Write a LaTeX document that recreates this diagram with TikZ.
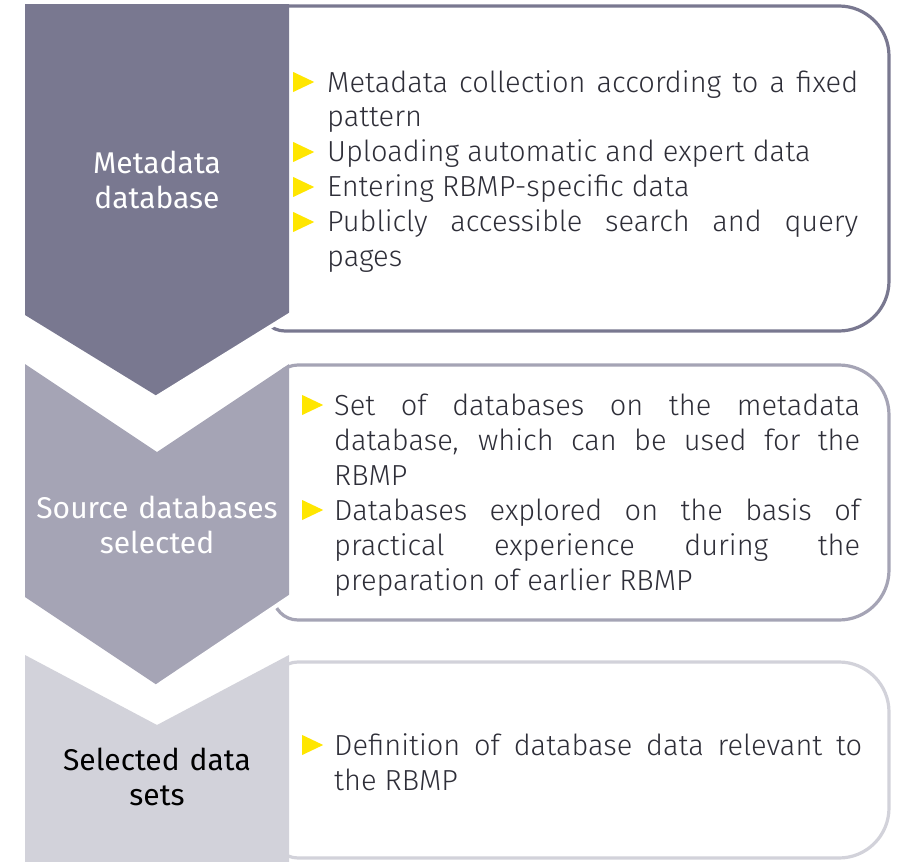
\documentclass[tikz,border=0pt]{standalone}
\usepackage{fontspec}
\setmainfont{Fira Sans}
\newfontfamily\lightfont{Fira Sans Light}
\definecolor{cA}{HTML}{797890}
\definecolor{cB}{HTML}{A5A4B5}
\definecolor{cC}{HTML}{D2D2DA}
\definecolor{txt}{HTML}{2E2E38}
\definecolor{ybul}{HTML}{FFE600}
\tolerance=10000
\newsavebox\bulbox
\sbox\bulbox{\tikz\fill[ybul](0pt,0pt)--(21pt,10pt)--(0pt,20pt)--cycle;}
\newcommand\bul[1]{\par\hangindent=#1\relax\hangafter=1\relax\noindent\makebox[#1][l]{\usebox\bulbox}\ignorespaces}
\newcommand\bodybox[2]{\begin{minipage}[t]{#1}\lightfont\fontsize{29}{35}\selectfont\parindent=0pt\parskip=0pt\relax\tolerance=10000\relax #2\par\end{minipage}}
\tikzset{
  boxline/.style={line width=3.2pt, fill=white},
  bodytext/.style={inner sep=0pt, anchor=base west, text=txt},
  labeltext/.style={inner sep=0pt, anchor=base, align=center, text width=270pt,
    font=\fontsize{30}{35}\selectfont},
  cut/.style={white, line width=4pt}
}
\begin{document}
\begin{tikzpicture}[x=1pt,y=-1pt]
\useasboundingbox (0,0) rectangle (898,862);
% boxes (behind)
\draw[boxline, draw=cA] (285,6) -- (839,6) arc[start angle=-90,end angle=0,radius=50] -- (889,281) arc[start angle=0,end angle=90,radius=50] -- (285,331) arc[start angle=90,end angle=180,radius=25] -- (260,31) arc[start angle=180,end angle=270,radius=25] -- cycle;
\draw[boxline, draw=cB] (298,365) -- (839,365) arc[start angle=-90,end angle=0,radius=50] -- (889,570) arc[start angle=0,end angle=90,radius=50] -- (298,620) arc[start angle=90,end angle=180,radius=25] -- (273,390) arc[start angle=180,end angle=270,radius=25] -- cycle;
\draw[boxline, draw=cC] (298,662) -- (839,662) arc[start angle=-90,end angle=0,radius=50] -- (889,808) arc[start angle=0,end angle=90,radius=50] -- (298,858) arc[start angle=90,end angle=180,radius=25] -- (273,687) arc[start angle=180,end angle=270,radius=25] -- cycle;
% chevrons
\fill[cA] (25,4) -- (289,4) -- (289,315) -- (157,396) -- (25,315) -- cycle;
\draw[cut] (291,314) -- (157,397);
\fill[cB] (25,364) -- (157,452) -- (289,364) -- (289,597) -- (157,685) -- (25,597) -- cycle;
\draw[cut] (291,596) -- (157,686);
\fill[cC] (25,655) -- (157,725) -- (289,655) -- (289,862) -- (25,862) -- cycle;
% labels
\node[labeltext, text=white] (l1) at (157,173) {Metadata\\database};
\node[labeltext, text=white] (l2) at (157,518) {Source databases\\selected};
\node[labeltext, text=black] (l3) at (157,770) {Selected data\\sets};
% body texts
\node[bodytext] (t1) at (293,92) {\bodybox{565pt}{\bul{34pt}Metadata collection according to a fixed\linebreak pattern
\bul{34pt}Uploading automatic and expert data
\bul{34pt}Entering RBMP-specific data
\bul{34pt}Publicly accessible search and query\linebreak pages}};
\node[bodytext] (t2) at (302,415) {\bodybox{558pt}{\bul{32pt}Set of databases on the metadata\linebreak database, which can be used for the\linebreak RBMP
\bul{32pt}Databases explored on the basis of\linebreak practical experience during the\linebreak preparation of earlier RBMP}};
\node[bodytext] (t3) at (302,755) {\bodybox{560pt}{\bul{32pt}Definition of database data relevant to\linebreak the RBMP}};
\end{tikzpicture}
\end{document}
